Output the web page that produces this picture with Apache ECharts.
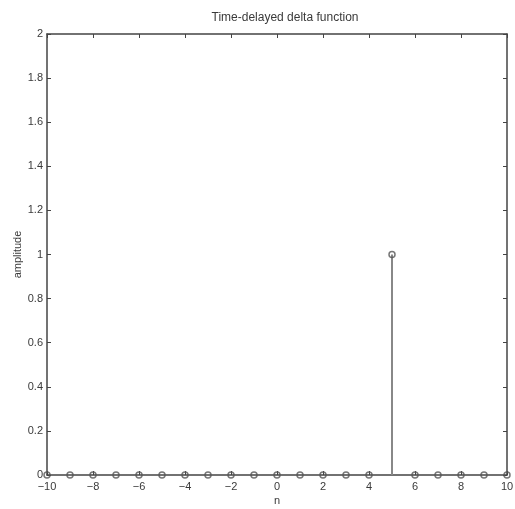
<!DOCTYPE html>
<html><head><meta charset="utf-8">
<script src="https://cdn.jsdelivr.net/npm/echarts@6/dist/echarts.min.js"></script>
<style>html,body{margin:0;padding:0;background:#fff}#c{width:515px;height:509px}</style>
</head><body><div id="c"></div>
<script>
const nValues = [-10,-9,-8,-7,-6,-5,-4,-3,-2,-1,0,1,2,3,4,5,6,7,8,9,10];
const amplitude = [0,0,0,0,0,0,0,0,0,0,0,0,0,0,0,1,0,0,0,0,0];
const titleText = 'Time-delayed delta function';
const xName = 'n';
const yName = 'amplitude';

const pts = nValues.map((n,i)=>[n, amplitude[i]]);
const font = 'Liberation Sans, Arial, sans-serif';
const axisCol = '#444';
const txtCol = '#3a3a3a';
const chart = echarts.init(document.getElementById('c'), null, {renderer:'canvas'});
const baseX = {type:'value', min:-10, max:10, interval:2,
  axisLine:{show:true, onZero:false, lineStyle:{color:axisCol, width:1.5}},
  axisTick:{show:true, inside:true, length:4, lineStyle:{color:axisCol}},
  splitLine:{show:false}};
const baseY = {type:'value', min:0, max:2, interval:0.2,
  axisLine:{show:true, onZero:false, lineStyle:{color:axisCol, width:1.5}},
  axisTick:{show:true, inside:true, length:4, lineStyle:{color:axisCol}},
  splitLine:{show:false}};
chart.setOption({
  animation:false,
  backgroundColor:'#fff',
  title:{text:titleText, left:280, top:7, textAlign:'center',
    textStyle:{fontFamily:font, fontSize:12, fontWeight:'normal', color:txtCol}},
  grid:{left:47, right:8, top:34, bottom:34, containLabel:false, outerBoundsMode:'none'},
  xAxis:[
    Object.assign({}, baseX, {position:'bottom', name:xName, nameLocation:'middle', nameGap:20,
      nameMoveOverlap:false,
      nameTextStyle:{fontFamily:font, fontSize:11, color:txtCol},
      axisLabel:{fontFamily:font, fontSize:11, color:txtCol, margin:6,
        formatter:v=>String(v).replace('-', '\u2212')}}),
    Object.assign({}, baseX, {position:'top', axisLabel:{show:false}})
  ],
  yAxis:[
    Object.assign({}, baseY, {position:'left', name:yName, nameLocation:'middle', nameGap:24,
      nameMoveOverlap:false,
      nameTextStyle:{fontFamily:font, fontSize:11, color:txtCol},
      axisLabel:{fontFamily:font, fontSize:11, color:txtCol, margin:4,
        formatter:v=>String(Math.round(v*10)/10)}}),
    Object.assign({}, baseY, {position:'right', axisLabel:{show:false}})
  ],
  series:[
    {type:'custom', xAxisIndex:0, yAxisIndex:0, data:pts, clip:false,
     renderItem:function(params, api){
       const x = api.value(0), y = api.value(1);
       const p0 = api.coord([x,0]), p1 = api.coord([x,y]);
       return {type:'line', shape:{x1:p0[0], y1:p0[1], x2:p1[0], y2:p1[1]},
         style:{stroke:'#888', lineWidth:2}};
     }},
    {type:'scatter', xAxisIndex:0, yAxisIndex:0, data:pts, symbol:'circle', symbolSize:6,
     clip:false,
     itemStyle:{color:'rgba(255,255,255,0)', borderColor:'#555', borderWidth:1.5}}
  ]
});
</script></body></html>
